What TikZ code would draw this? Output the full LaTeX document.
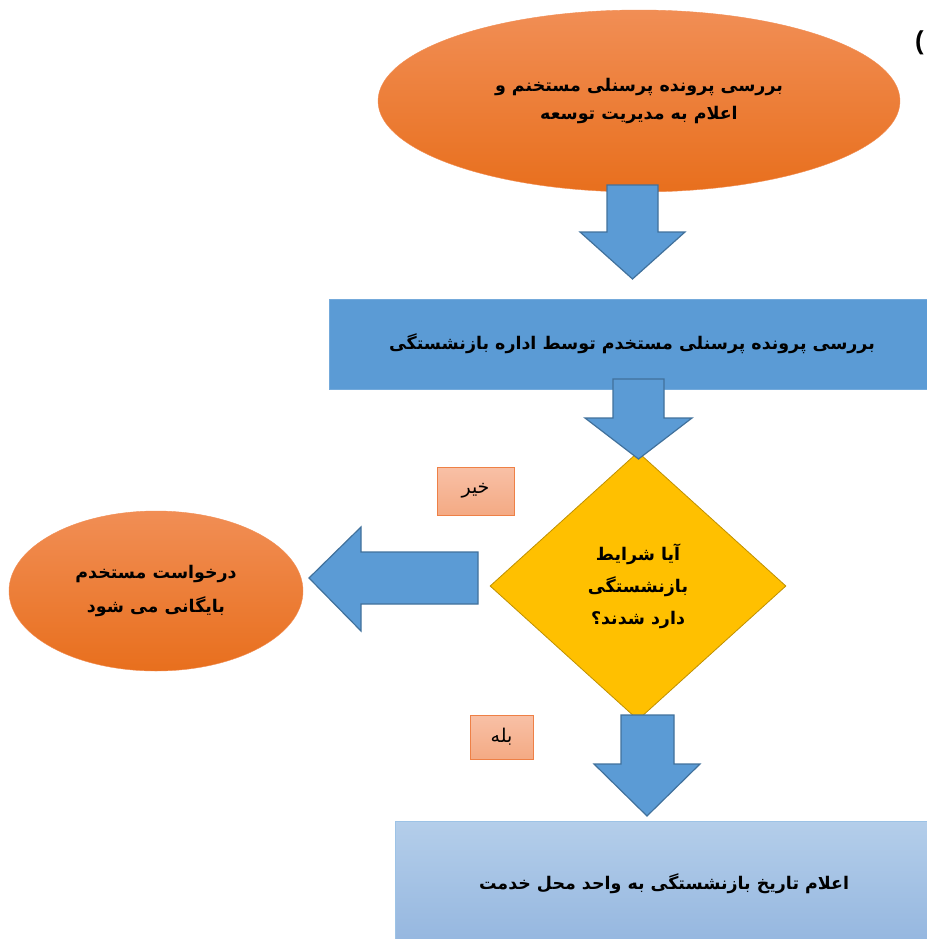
\documentclass[tikz,border=0pt]{standalone}
\usepackage{fontspec}
\setmainfont{Liberation Sans}
\newfontfamily\arabicfont[Script=Arabic]{DejaVu Sans}
\TeXXeTstate=1
\usetikzlibrary{shapes.geometric}

\definecolor{orangetop}{HTML}{F18E55}
\definecolor{orangebot}{HTML}{E86F1D}
\definecolor{stepblue}{HTML}{5B9BD5}
\definecolor{arrowline}{HTML}{41719C}
\definecolor{gold}{HTML}{FFC000}
\definecolor{goldline}{HTML}{BF9000}
\definecolor{tagtop}{HTML}{F8C0A6}
\definecolor{tagbot}{HTML}{F4AA84}
\definecolor{tagline}{HTML}{EE8046}
\definecolor{lighttop}{HTML}{B4CEEA}
\definecolor{lightbot}{HTML}{94B6DF}

\tikzset{
  fatext/.style={font=\arabicfont\bfseries\fontsize{17.5}{28}\selectfont, align=center, text=black},
  startend/.style={shape=ellipse, draw=orangetop, top color=orangetop, bottom color=orangebot, fatext, inner sep=0pt},
  process/.style={shape=rectangle, draw=stepblue!85!white, fill=stepblue, fatext, inner sep=0pt},
  decision/.style={shape=diamond, draw=goldline, fill=gold, thick, fatext, inner sep=0pt},
  answer/.style={shape=rectangle, draw=tagline, top color=tagtop, bottom color=tagbot, font=\arabicfont\fontsize{19}{20}\selectfont, inner sep=0pt},
  blockarrow/.style={draw=arrowline, fill=stepblue, line width=1.2pt, line join=miter}
}

\begin{document}
\begin{tikzpicture}[x=1bp, y=-1bp]
	
	\useasboundingbox (0,0) rectangle (927,939);
	
	\node[startend, minimum width=522bp, minimum height=182bp] (check) at (639, 101)
		{\beginR بررسی پرونده پرسنلی مستخنم و\endR\\ \beginR اعلام به مدیریت توسعه\endR};
	\node[process, minimum width=606bp, minimum height=90bp] (office) at (632, 344)
		{\beginR بررسی پرونده پرسنلی مستخدم توسط اداره بازنشستگی\endR};
	\node[decision, minimum width=296bp, minimum height=268bp, font=\arabicfont\bfseries\fontsize{17.5}{32}\selectfont] (ask) at (638, 586)
		{\beginR آیا شرایط\endR\\ \beginR بازنشستگی\endR\\ \beginR دارد شدند؟\endR};
	\node[startend, minimum width=294bp, minimum height=160bp, font=\arabicfont\bfseries\fontsize{17.5}{34}\selectfont] (archive) at (156, 591)
		{\beginR درخواست مستخدم\endR\\ \beginR بایگانی می شود\endR};
	\node[shape=rectangle, draw=stepblue!60!white, top color=lighttop, bottom color=lightbot, fatext, minimum width=538bp, minimum height=126bp] (notify) at (664, 884)
		{\beginR اعلام تاریخ بازنشستگی به واحد محل خدمت\endR};
	
	\node[answer, minimum width=77bp, minimum height=48bp] (no) at (475.5, 491) {\beginR خیر\endR};
	\node[answer, minimum width=63bp, minimum height=44bp] (yes) at (501.5, 737) {\beginR بله\endR};
	
	\node[font=\bfseries\fontsize{26}{26}\selectfont, anchor=west, inner sep=0pt] (part) at (915, 43) {(};
	
	% block arrows
	\draw[blockarrow] (607,185) -- (658,185) -- (658,232) -- (685,232) -- (632.5,279) -- (580,232) -- (607,232) -- cycle;
	\draw[blockarrow] (613,379) -- (664,379) -- (664,418) -- (692,418) -- (638.5,459) -- (585,418) -- (613,418) -- cycle;
	\draw[blockarrow] (478,552) -- (478,604) -- (361,604) -- (361,631) -- (309,578) -- (361,527) -- (361,552) -- cycle;
	\draw[blockarrow] (621,715) -- (674,715) -- (674,764) -- (700,764) -- (647,816) -- (594,764) -- (621,764) -- cycle;
	
\end{tikzpicture}
\end{document}
